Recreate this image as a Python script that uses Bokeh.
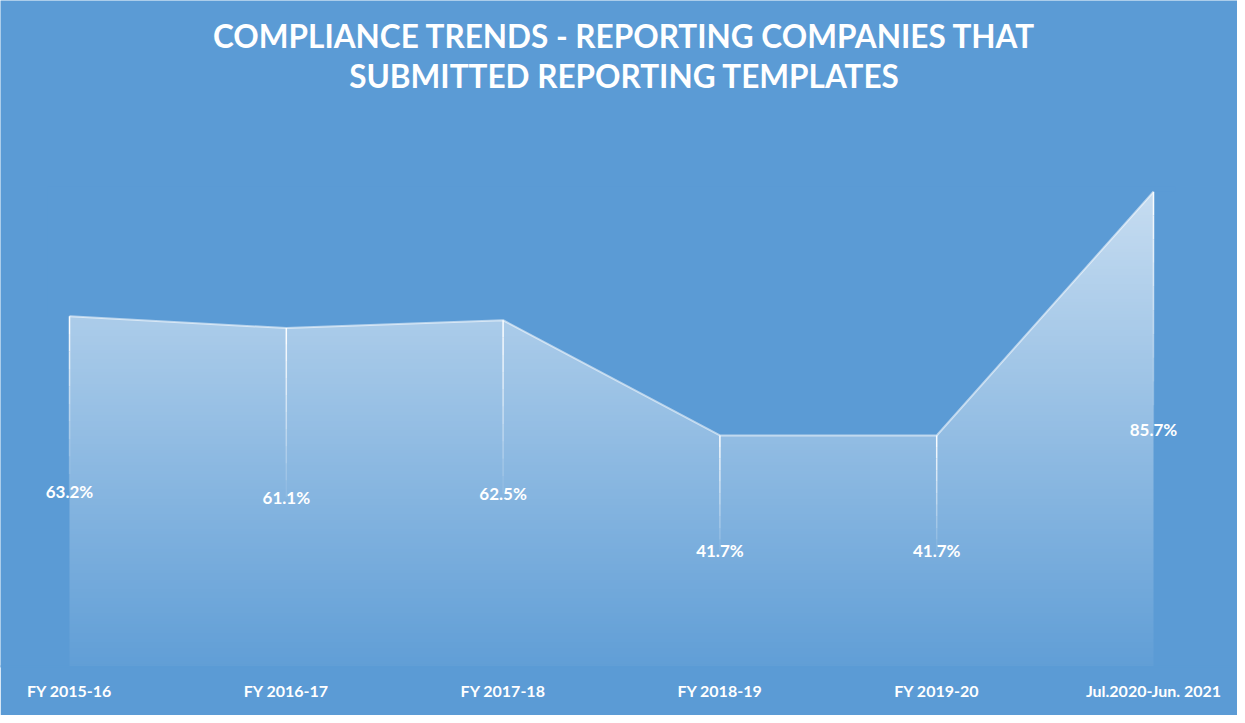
import numpy as np
from bokeh.plotting import figure
from bokeh.models import Range1d, FixedTicker, ColumnDataSource
from bokeh.core.properties import value
from bokeh.embed import file_html
from bokeh.resources import INLINE

categories = ["FY 2015-16", "FY 2016-17", "FY 2017-18", "FY 2018-19", "FY 2019-20", "Jul.2020-Jun. 2021"]
compliance = [63.2, 61.1, 62.5, 41.7, 41.7, 85.7]
title_lines = ["COMPLIANCE TRENDS - REPORTING COMPANIES THAT", "SUBMITTED REPORTING TEMPLATES"]

BG = "#5B9BD5"
W, H = 1237, 715
PX_PER_CAT = 216.8
PX_PER_UNIT = 5.54
BOTTOM_BORDER = 49
FIRST_X_PX = 69  # px from figure left to first category

n = len(categories)
xs = list(range(n))
frame_h = H - BOTTOM_BORDER
x0 = -FIRST_X_PX / PX_PER_CAT
x1 = x0 + W / PX_PER_CAT
y1 = frame_h / PX_PER_UNIT

p = figure(width=W, height=H, output_backend="svg", toolbar_location=None,
           x_range=Range1d(x0, x1), y_range=Range1d(0, y1),
           y_axis_location=None, min_border_left=0, min_border_right=0,
           min_border_top=0, min_border_bottom=BOTTOM_BORDER)
p.background_fill_color = BG
p.border_fill_color = BG
p.outline_line_color = None
p.grid.visible = False

# gradient fill of the area (white, alpha rising with height), then mask above the line
ymax = max(compliance)
rows = 480
a = 0.04 + 0.62 * (np.arange(rows) + 0.5) / rows
img = np.zeros((rows, 1), dtype=np.uint32)
view = img.view(dtype=np.uint8).reshape((rows, 1, 4))
view[:, 0, 0] = 255
view[:, 0, 1] = 255
view[:, 0, 2] = 255
view[:, 0, 3] = (a * 255).astype(np.uint8)
p.image_rgba(image=[img], x=xs[0], y=0, dw=xs[-1] - xs[0], dh=ymax)
pad = 0.1
mask_x = [xs[0] - pad, xs[0] - pad] + xs + [xs[-1] + pad, xs[-1] + pad]
mask_y = [ymax + 1, compliance[0]] + compliance + [compliance[-1], ymax + 1]
p.patch(mask_x, mask_y, fill_color=BG, line_color=None)

# baseline
p.line([xs[0], xs[-1]], [0, 0], line_color="white", line_alpha=0.2, line_width=1.5)

# drop lines, fading towards the bottom
seg_x, seg_y0, seg_y1, seg_a = [], [], [], []
pieces = 20
for i, v in zip(xs, compliance):
    for k in range(pieces):
        seg_x.append(i)
        seg_y0.append(v * (1 - k / pieces))
        seg_y1.append(v * (1 - (k + 1) / pieces))
        seg_a.append(max(0.0, 0.95 - 1.9 * k / pieces))
p.segment(x0=seg_x, y0=seg_y0, x1=seg_x, y1=seg_y1, line_color="white",
          line_alpha=seg_a, line_width=1.5)

# top edge line
p.line(xs, compliance, line_color="white", line_alpha=0.55, line_width=2)

# data labels in the middle of the area
src = ColumnDataSource(dict(x=xs, y=[v / 2 for v in compliance],
                            t=[f"{v:.1f}%" for v in compliance]))
p.text(x="x", y="y", text="t", source=src, text_color="white",
       text_font=value("Lato"), text_font_style="bold", text_font_size="17px",
       text_align="center", text_baseline="middle")

# title
title_y = [113.8, 106.5]
title_x = (624 - FIRST_X_PX) / PX_PER_CAT
p.text(x=[title_x] * 2, y=title_y, text=title_lines, text_color="white",
       text_font=value("Lato"), text_font_style="bold", text_font_size="31.5px",
       text_align="center", text_baseline="middle")

# x axis (axis line painted in the background colour to hide the frame seam)
p.xaxis.ticker = FixedTicker(ticks=xs)
p.xaxis.major_label_overrides = {i: c for i, c in zip(xs, categories)}
p.xaxis.axis_line_color = BG
p.xaxis.axis_line_width = 2
p.xaxis.major_tick_line_color = None
p.xaxis.minor_tick_line_color = None
p.xaxis.major_tick_out = 0
p.xaxis.major_label_standoff = 14
p.xaxis.major_label_text_color = "white"
p.xaxis.major_label_text_font = "Lato"
p.xaxis.major_label_text_font_size = "16px"
p.xaxis.major_label_text_font_style = "bold"

open("out.html", "w").write(file_html(p, INLINE))
